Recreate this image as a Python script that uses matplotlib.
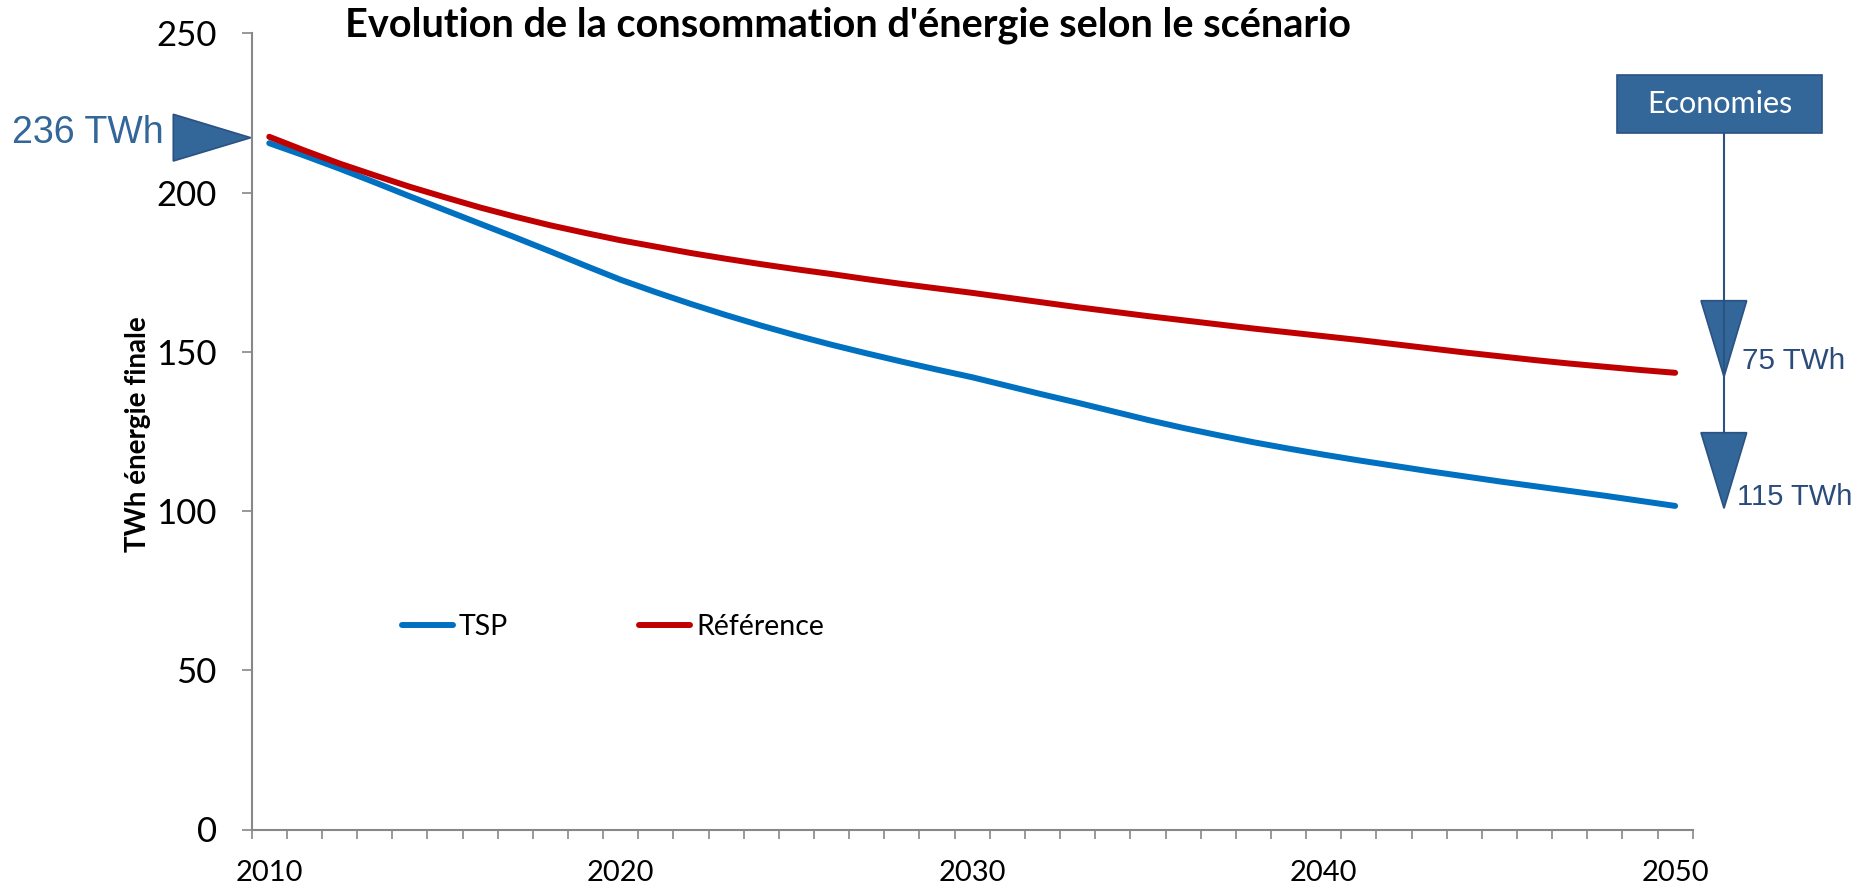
import matplotlib
matplotlib.use("Agg")
import matplotlib.pyplot as plt
from matplotlib.patches import Polygon, Rectangle
from matplotlib.lines import Line2D

W, H = 1862, 885

years = list(range(2010, 2051))
tsp = [215.5, 211.6, 207.5, 203.2, 198.8, 194.5, 190.2, 185.9, 181.5, 177.0,
       172.6, 168.7, 165.0, 161.5, 158.2, 155.1, 152.2, 149.5, 146.9, 144.4,
       142.0, 139.3, 136.6, 134.0, 131.3, 128.6, 126.1, 123.8, 121.6, 119.6,
       117.7, 115.9, 114.2, 112.5, 110.9, 109.3, 107.8, 106.3, 104.8, 103.2,
       101.6]
reference = [217.5, 213.2, 209.1, 205.4, 201.8, 198.5, 195.3, 192.4, 189.7, 187.3,
             185.0, 183.0, 181.0, 179.2, 177.5, 175.9, 174.4, 172.8, 171.3, 169.9,
             168.5, 167.0, 165.5, 164.0, 162.6, 161.2, 159.9, 158.6, 157.3, 156.1,
             154.9, 153.7, 152.4, 151.1, 149.8, 148.6, 147.4, 146.3, 145.3, 144.3,
             143.4]
series_names = ["TSP", "Référence"]
x_labels = [2010, 2020, 2030, 2040, 2050]
y_ticks = [0, 50, 100, 150, 200, 250]

title = "Evolution de la consommation d'énergie selon le scénario"
ylabel = "TWh énergie finale"
start_label = "236 TWh"
box_label = "Economies"
saving_labels = ["75 TWh", "115 TWh"]

BLUE = "#0070C0"
RED = "#C00000"
SHAPE = "#336699"
SHAPE_EDGE = "#2A5283"
AXIS = "#888888"
TXT_DARK = "#2B4C7A"

def fx(x):
    return x / W

def fy(y):
    return 1 - y / H

fig = plt.figure(figsize=(W / 100, H / 100), dpi=100)
ax = fig.add_axes([fx(251.7), fy(829.5), fx(1692.7) - fx(251.7), fy(33.3) - fy(829.5)])

ax.plot(years, tsp, color=BLUE, lw=4.3, solid_capstyle="round", label=series_names[0])
ax.plot(years, reference, color=RED, lw=4.3, solid_capstyle="round", label=series_names[1])

ax.set_xlim(years[0] - 0.5, years[-1] + 0.5)
ax.set_ylim(0, 250)

for s in ["top", "right"]:
    ax.spines[s].set_visible(False)
for s in ["left", "bottom"]:
    ax.spines[s].set_color(AXIS)
    ax.spines[s].set_linewidth(1.5)

ax.set_yticks(y_ticks)
ax.set_yticklabels([str(v) for v in y_ticks], fontfamily="Lato", fontsize=25)
ax.tick_params(axis="y", direction="out", length=7.2, width=1.2, color=AXIS, pad=18)

ax.set_xticks(x_labels)
ax.set_xticklabels([str(v) for v in x_labels], fontfamily="Lato", fontsize=21)
ax.set_xticks([y - 0.5 for y in years] + [years[-1] + 0.5], minor=True)
ax.tick_params(axis="x", which="major", length=0, pad=22)
ax.tick_params(axis="x", which="minor", direction="out", length=6.5, width=1.2, color=AXIS)

fig.text(fx(138), fy(434), ylabel, rotation=90, ha="center", va="center",
         fontfamily="Lato", fontweight="bold", fontsize=20)

fig.text(fx(848), fy(25), title, ha="center", va="center",
         fontfamily="Lato", fontweight="bold", fontsize=28.5)

leg = ax.legend(loc="center left", bbox_to_anchor=(fx(402), fy(627)),
                bbox_transform=fig.transFigure, ncol=2, frameon=False,
                prop={"family": "Lato", "size": 20.5}, handlelength=1.8,
                handletextpad=0.2, columnspacing=4.6, borderpad=0, borderaxespad=0)

# left annotation
fig.text(fx(12), fy(133), start_label, ha="left", va="center",
         fontfamily="Liberation Sans", fontsize=27, color=SHAPE)
fig.patches.append(Polygon([[fx(173.3), fy(114.3)], [fx(173.3), fy(161)], [fx(250.7), fy(137.7)]],
                           closed=True, transform=fig.transFigure, facecolor=SHAPE,
                           edgecolor=SHAPE_EDGE, lw=1.2))

# right annotation
fig.patches.append(Rectangle((fx(1617.3), fy(133.3)), fx(1822.3) - fx(1617.3), fy(75) - fy(133.3),
                             transform=fig.transFigure, facecolor=SHAPE, edgecolor=SHAPE_EDGE, lw=1.2))
fig.text(fx(1720), fy(104), box_label, ha="center", va="center",
         fontfamily="Lato", fontsize=22, color="white")
fig.lines.append(Line2D([fx(1724.3), fx(1724.3)], [fy(133.3), fy(432.7)],
                        transform=fig.transFigure, color=SHAPE_EDGE, lw=1.5))
for top, bot in [(300.7, 376.7), (432.7, 508.3)]:
    fig.patches.append(Polygon([[fx(1701), fy(top)], [fx(1746.7), fy(top)], [fx(1724), fy(bot)]],
                               closed=True, transform=fig.transFigure, facecolor=SHAPE,
                               edgecolor=SHAPE_EDGE, lw=1.2))
fig.text(fx(1742), fy(361), saving_labels[0], ha="left", va="center",
         fontfamily="Liberation Sans", fontsize=21.3, color=TXT_DARK)
fig.text(fx(1737), fy(497), saving_labels[1], ha="left", va="center",
         fontfamily="Liberation Sans", fontsize=21, color=TXT_DARK)

fig.savefig("out.png", dpi=100)
